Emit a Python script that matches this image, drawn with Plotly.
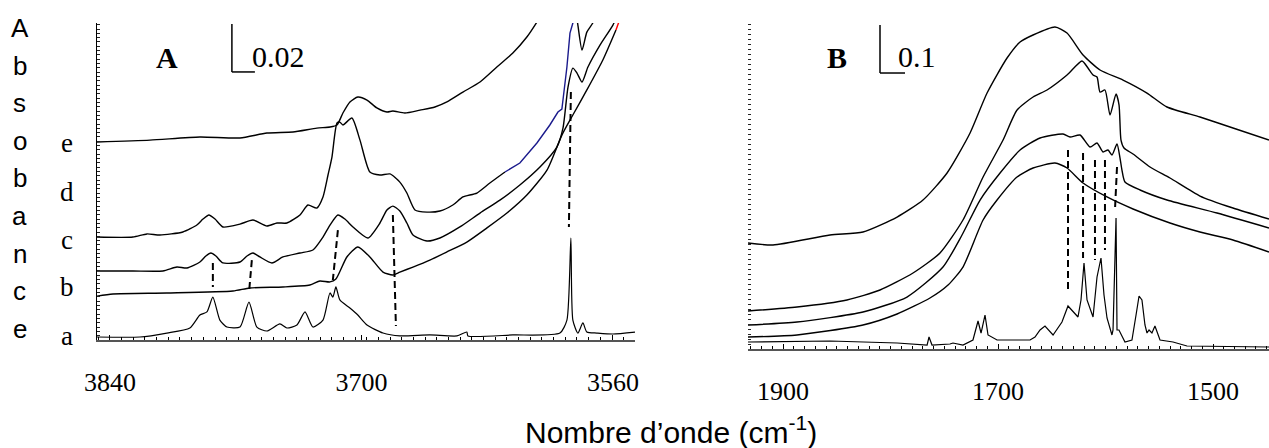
import plotly.graph_objects as go

W, H = 1269, 448
SERIF = "Liberation Serif"
SANS = "Liberation Sans"

# ---------------- Panel A (3847-3548 cm-1), absorbance in milli-A ----------------
A_a_wn = [3847.2, 3823.3, 3808.3, 3795.5, 3789.9, 3786.0, 3782.7, 3778.8, 3774.9, 3767.6,
          3762.6, 3758.2, 3752.6, 3745.4, 3741.5, 3735.9, 3731.4, 3727.0, 3721.4, 3717.5,
          3715.9, 3714.2, 3712.0, 3706.4, 3702.0, 3696.9, 3688.0, 3678.6, 3661.9, 3646.8,
          3641.3, 3640.7, 3615.7, 3589.5, 3585.6, 3583.4, 3582.3, 3579.5, 3576.7, 3574.5,
          3568.9, 3560.0, 3547.7]
A_a_y = [1.25, 1.25, 2.9, 5.0, 10.4, 11.7, 17.9, 8.3, 5.4, 5.4,
         15.8, 5.4, 3.75, 6.7, 5.0, 6.25, 11.7, 5.4, 8.3, 19.6,
         17.9, 22.1, 16.7, 13.3, 10.4, 6.25, 2.9, 1.7, 2.1, 1.7,
         3.3, 1.7, 2.1, 2.9, 8.3, 42.5, 8.3, 2.9, 7.1, 3.3,
         2.9, 2.5, 3.3]

A_b_wn = [3847.2, 3838.3, 3808.3, 3771.5, 3762.1, 3743.7, 3728.7, 3723.1, 3717.5, 3714.2,
          3708.1, 3702.0, 3695.3, 3688.0, 3682.5, 3678.6, 3671.3, 3661.9, 3652.4, 3641.3,
          3630.1, 3619.0, 3607.9, 3596.7, 3588.4, 3582.3, 3574.5, 3565.6, 3558.3]
A_b_y = [18.3, 19.2, 19.6, 20.4, 21.7, 22.1, 22.9, 24.6, 24.2, 25.4,
         34.6, 38.75, 34.6, 28.3, 27.1, 28.3, 30.4, 33.3, 36.7, 40.8,
         46.7, 52.9, 60.4, 70.8, 85.4, 93.75, 104.2, 116.7, 129.2]
A_b_red_wn = [3558.3, 3553.3]
A_b_red_y = [129.2, 139.5]

A_c_wn = [3847.2, 3827.2, 3810.5, 3802.7, 3797.1, 3789.9, 3786.6, 3783.8, 3781.0, 3777.1,
          3767.6, 3763.7, 3760.4, 3756.5, 3749.8, 3743.7, 3734.2, 3727.0, 3721.4, 3717.5,
          3713.1, 3709.2, 3704.7, 3696.4, 3689.7, 3685.8, 3682.5, 3678.6, 3674.7, 3671.3,
          3663.5, 3656.3, 3645.2, 3634.0, 3622.9, 3611.8, 3600.6, 3591.2, 3587.8, 3585.0,
          3582.3, 3580.0, 3577.2, 3573.9, 3567.2, 3560.0, 3556.1]
A_c_y = [28.75, 28.75, 28.75, 30.4, 30.0, 32.5, 35.0, 36.25, 35.0, 32.1,
         32.5, 35.0, 36.25, 34.6, 32.1, 34.6, 36.25, 37.5, 42.9, 47.9,
         52.1, 50.4, 47.1, 42.5, 48.75, 54.2, 55.8, 53.75, 48.75, 43.75,
         41.25, 42.5, 47.1, 52.9, 58.3, 64.6, 72.1, 80.4, 88.3, 105.4,
         113.3, 111.25, 107.5, 113.75, 122.9, 131.25, 137.5]

A_d_wn = [3847.2, 3827.2, 3819.4, 3812.2, 3799.4, 3791.6, 3788.2, 3784.9, 3781.5, 3777.1,
          3767.6, 3760.4, 3752.6, 3747.0, 3741.5, 3734.2, 3729.8, 3724.8, 3721.4, 3718.6,
          3716.4, 3713.6, 3712.0, 3710.3, 3705.3, 3700.8, 3695.3, 3689.7, 3684.1, 3678.6,
          3674.7, 3670.2, 3663.5, 3656.3, 3649.1, 3643.5, 3635.7, 3628.5, 3620.1]
A_d_y = [42.9, 42.9, 44.2, 43.75, 45.0, 47.9, 50.4, 52.1, 50.4, 47.1,
         48.3, 50.0, 47.5, 48.75, 48.75, 52.1, 56.25, 55.0, 59.6, 68.75,
         76.25, 90.4, 90.8, 89.6, 92.5, 83.3, 70.0, 68.75, 69.2, 65.8,
         61.25, 54.2, 53.3, 53.75, 56.25, 59.6, 61.25, 65.4, 70.0]
A_d_blue_wn = [3620.1, 3611.8, 3602.3, 3595.1, 3590.6, 3588.4, 3587.8, 3585.6, 3583.9, 3582.3, 3581.2]
A_d_blue_y = [70.0, 73.75, 82.1, 89.6, 95.0, 96.25, 100.0, 113.75, 127.9, 132.1, 139.6]
A_d_end_wn = [3581.2, 3579.5, 3577.2, 3574.5, 3571.2, 3567.2]
A_d_end_y = [139.6, 131.25, 120.8, 128.3, 132.1, 139.6]

A_e_wn = [3847.2, 3817.7, 3789.9, 3767.6, 3752.6, 3738.1, 3724.8, 3717.5, 3713.6, 3710.3,
          3706.4, 3702.0, 3696.9, 3691.4, 3685.8, 3682.5, 3675.8, 3667.4, 3659.1, 3652.4,
          3643.5, 3634.0, 3624.6, 3615.7, 3607.9, 3602.3, 3597.8]
A_e_y = [82.5, 83.3, 84.6, 84.2, 86.25, 86.7, 88.3, 88.75, 89.6, 94.6,
         99.2, 101.25, 100.0, 96.7, 95.0, 95.4, 94.6, 95.8, 97.1, 99.2,
         103.3, 107.5, 113.75, 119.6, 126.25, 132.5, 138.3]

A_dash_wn_top = [3782.7, 3761.0, 3713.1, 3682.5, 3583.4]
A_dash_wn_bot = [3782.7, 3762.6, 3715.9, 3680.8, 3584.5]
A_dash_y_top = [32.1, 33.3, 45.8, 52.1, 103.3]
A_dash_y_bot = [22.1, 19.6, 25.0, 5.8, 47.1]

A_range_x = [3847.2, 3547.7]
A_range_y = [0, 132.1]
A_tickvals = [3840, 3700, 3560]
A_ticktext = ["3840", "3700", "3560"]
A_scale = 20.0          # 0.02 absorbance
A_scale_text = "0.02"
A_scale_x = [3772.1, 3759.3]
A_scale_y0 = 111.7
A_curve_labels = ["e", "d", "c", "b", "a"]

# ---------------- Panel B (1933-1448 cm-1), absorbance in milli-A ----------------
B_a_wn = [1932.6, 1856.3, 1793.9, 1766.0, 1764.2, 1761.4, 1744.7, 1741.9, 1732.6, 1723.3,
          1718.6, 1715.8, 1712.1, 1709.3, 1700.9, 1670.2, 1665.6, 1660.9, 1656.3, 1648.8,
          1640.5, 1634.9, 1625.6, 1622.8, 1620.0, 1617.2, 1611.6, 1607.9, 1604.2, 1601.4,
          1598.6, 1594.0, 1593.0, 1590.2, 1589.3, 1587.5, 1581.9, 1575.4, 1571.6, 1568.8,
          1566.1, 1563.3, 1561.4, 1559.5, 1556.8, 1554.0, 1549.3, 1537.2, 1524.2, 1447.9]
B_a_y = [14.6, 16.7, 12.5, 8.3, 25.0, 8.3, 10.4, 12.5, 8.3, 18.75,
         58.3, 33.3, 70.8, 29.2, 18.75, 18.75, 25.0, 39.6, 47.9, 29.2,
         56.25, 89.6, 66.7, 102.1, 179.2, 102.1, 66.7, 150.0, 189.6, 112.5,
         64.6, 29.2, 39.6, 272.9, 39.6, 39.6, 14.6, 18.75, 70.8, 110.4,
         102.1, 50.0, 33.3, 39.6, 33.3, 47.9, 18.75, 14.6, 6.25, 4.2]

B_b_wn = [1932.6, 1887.0, 1825.6, 1793.9, 1763.3, 1746.5, 1732.6, 1713.9, 1700.9, 1682.3,
          1667.4, 1647.0, 1635.8, 1620.9, 1598.6, 1574.4, 1540.0, 1512.1, 1481.4, 1447.9]
B_b_y = [25.0, 29.2, 50.0, 72.9, 106.25, 133.3, 170.8, 268.75, 310.4, 358.3,
         377.1, 387.5, 377.1, 345.8, 316.7, 291.7, 262.5, 243.75, 227.1, 202.1]

B_c_wn = [1932.6, 1887.0, 1825.6, 1784.7, 1751.2, 1733.5, 1716.7, 1698.1, 1679.5, 1660.9,
          1639.5, 1633.0, 1623.7, 1614.4, 1607.9, 1602.3, 1597.7, 1594.0, 1589.3, 1586.5,
          1584.7, 1581.9, 1567.9, 1542.8, 1496.3, 1447.9]
B_c_y = [50.0, 56.25, 77.1, 108.3, 170.8, 237.5, 310.4, 366.7, 414.6, 439.6,
         447.9, 441.7, 445.8, 420.8, 429.2, 410.4, 414.6, 404.2, 427.1, 397.9,
         372.9, 347.9, 331.25, 310.4, 283.3, 252.1]

B_d_wn = [1932.6, 1887.0, 1840.5, 1809.8, 1779.1, 1754.0, 1732.6, 1713.9, 1695.3, 1682.3,
          1667.4, 1654.4, 1635.8, 1621.9, 1616.3, 1611.6, 1607.9, 1605.1, 1600.5, 1595.8,
          1590.2, 1587.4, 1585.6, 1582.8, 1574.4, 1558.6, 1540.0, 1512.1, 1481.4, 1447.9]
B_d_y = [79.2, 87.5, 102.1, 122.9, 158.3, 200.0, 268.75, 358.3, 435.4, 497.9,
         525.0, 539.6, 570.8, 600.0, 585.4, 570.8, 566.7, 535.4, 539.6, 487.5,
         531.25, 508.3, 435.4, 418.75, 406.25, 379.2, 356.25, 318.75, 293.75, 270.8]

B_e_wn = [1932.6, 1909.3, 1856.3, 1825.6, 1793.9, 1769.8, 1747.4, 1726.0, 1710.2, 1691.6,
          1679.5, 1667.4, 1647.0, 1635.8, 1620.9, 1605.1, 1583.7, 1561.4, 1542.8, 1512.1,
          1481.4, 1447.9]
B_e_y = [220.8, 216.7, 237.5, 243.75, 275.0, 310.4, 366.7, 450.0, 533.3, 606.25,
         639.6, 654.2, 670.8, 658.3, 612.5, 581.25, 560.4, 533.3, 504.2, 483.3,
         460.4, 435.4]

B_dash_wn_top = [1634.9, 1620.9, 1609.8, 1600.5, 1589.3]
B_dash_wn_bot = [1634.9, 1620.9, 1609.8, 1600.5, 1591.2]
B_dash_y_top = [414.6, 408.3, 393.75, 393.75, 379.2]
B_dash_y_bot = [116.7, 189.6, 185.4, 206.25, 289.6]

B_range_x = [1932.6, 1447.9]
B_range_y = [0, 679.2]
B_tickvals = [1900, 1700, 1500]
B_ticktext = ["1900", "1700", "1500"]
B_scale = 100.0         # 0.1 absorbance
B_scale_text = "0.1"
B_scale_x = [1809.8, 1786.5]
B_scale_y0 = 575.0

Y_LETTERS = list("Absobance")
X_TITLE = "Nombre d’onde (cm<sup>-1</sup>)"

fig = go.Figure()


def line(x, y, xa, ya, color="black", width=1.4, shape="spline", dash=None):
    fig.add_trace(go.Scatter(
        x=x, y=y, xaxis=xa, yaxis=ya, mode="lines",
        line=dict(color=color, width=width, shape=shape, smoothing=0.6, dash=dash),
        showlegend=False, hoverinfo="skip"))


# Panel A curves
line(A_a_wn, A_a_y, "x", "y", width=1.2)
line(A_b_wn, A_b_y, "x", "y")
line(A_b_red_wn, A_b_red_y, "x", "y", color="red", shape="linear")
line(A_c_wn, A_c_y, "x", "y")
line(A_d_wn, A_d_y, "x", "y")
line(A_d_blue_wn, A_d_blue_y, "x", "y", color="#1a1a8c", shape="linear")
line(A_d_end_wn, A_d_end_y, "x", "y")
line(A_e_wn, A_e_y, "x", "y")
for x0, x1, y0, y1 in zip(A_dash_wn_top, A_dash_wn_bot, A_dash_y_top, A_dash_y_bot):
    line([x0, x1], [y0, y1], "x", "y", width=2, shape="linear", dash="7px,4px")

# Panel B curves
line(B_a_wn, B_a_y, "x2", "y2", width=1.2, shape="linear")
line(B_b_wn, B_b_y, "x2", "y2")
line(B_c_wn, B_c_y, "x2", "y2")
line(B_d_wn, B_d_y, "x2", "y2")
line(B_e_wn, B_e_y, "x2", "y2")
for x0, x1, y0, y1 in zip(B_dash_wn_top, B_dash_wn_bot, B_dash_y_top, B_dash_y_bot):
    line([x0, x1], [y0, y1], "x2", "y2", width=2, shape="linear", dash="7px,4px")

tickfont = dict(family=SERIF, size=26, color="black")
common_x = dict(showgrid=False, zeroline=False, ticks="inside", ticklen=5, tickcolor="black",
                showline=True, linecolor="#555", linewidth=1.5, tickfont=tickfont,
                ticklabelstandoff=18, automargin=False)
common_y = dict(showgrid=False, zeroline=False, ticks="inside", ticklen=3, tickcolor="#222",
                showticklabels=False, automargin=False)

fig.update_layout(
    width=W, height=H, margin=dict(l=0, r=0, t=0, b=0, pad=0, autoexpand=False),
    paper_bgcolor="white", plot_bgcolor="white",
    xaxis=dict(domain=[97 / W, 635 / W], range=A_range_x, anchor="y",
               tickvals=A_tickvals, ticktext=A_ticktext,
               minor=dict(ticks="inside", ticklen=3, dtick=6.5, tick0=3840, tickcolor="black"),
               **common_x),
    yaxis=dict(domain=[(H - 340) / H, (H - 23) / H], range=A_range_y, anchor="x",
               dtick=1.8, showline=True, linecolor="black", linewidth=1.2, **common_y),
    xaxis2=dict(domain=[748 / W, 1.0], range=B_range_x, anchor="y2",
                tickvals=B_tickvals, ticktext=B_ticktext,
                minor=dict(ticks="inside", ticklen=3, dtick=10, tick0=1900, tickcolor="black"),
                **common_x),
    yaxis2=dict(domain=[(H - 349) / H, (H - 23) / H], range=B_range_y, anchor="x2",
                dtick=10.4, showline=False, **common_y),
)

# Scale bars
for xa, ya, sx, y0, s in [("x", "y", A_scale_x, A_scale_y0, A_scale),
                          ("x2", "y2", B_scale_x, B_scale_y0, B_scale)]:
    fig.add_shape(type="line", xref=xa, yref=ya, x0=sx[0], x1=sx[0], y0=y0, y1=y0 + s,
                  line=dict(color="black", width=1.5))
    fig.add_shape(type="line", xref=xa, yref=ya, x0=sx[0], x1=sx[1], y0=y0, y1=y0,
                  line=dict(color="black", width=1.5))

ann = []
ann.append(dict(text="<b>A</b>", x=167 / W, y=(H - 58) / H, font=dict(family=SERIF, size=30)))
ann.append(dict(text="<b>B</b>", x=837 / W, y=(H - 58) / H, font=dict(family=SERIF, size=30)))
ann.append(dict(text=A_scale_text, x=250 / W, y=(H - 56) / H, xanchor="left",
                font=dict(family=SERIF, size=30)))
ann.append(dict(text=B_scale_text, x=896 / W, y=(H - 56) / H, xanchor="left",
                font=dict(family=SERIF, size=30)))
for lab, py in zip(A_curve_labels, [143, 192, 240, 287, 336]):
    ann.append(dict(text=lab, x=67 / W, y=(H - py) / H, font=dict(family=SERIF, size=27)))
for i, ch in enumerate(Y_LETTERS):
    ann.append(dict(text=ch, x=20 / W, y=(H - (28 + 37.6 * i)) / H, font=dict(family=SANS, size=26)))
ann.append(dict(text=X_TITLE, x=671 / W, y=(H - 430) / H, font=dict(family=SANS, size=30)))

for a in ann:
    a.update(xref="paper", yref="paper", showarrow=False)
    a.setdefault("xanchor", "center")
    a.setdefault("yanchor", "middle")
    a["font"].setdefault("color", "black")
fig.update_layout(annotations=ann)

fig.write_html("out.html")
